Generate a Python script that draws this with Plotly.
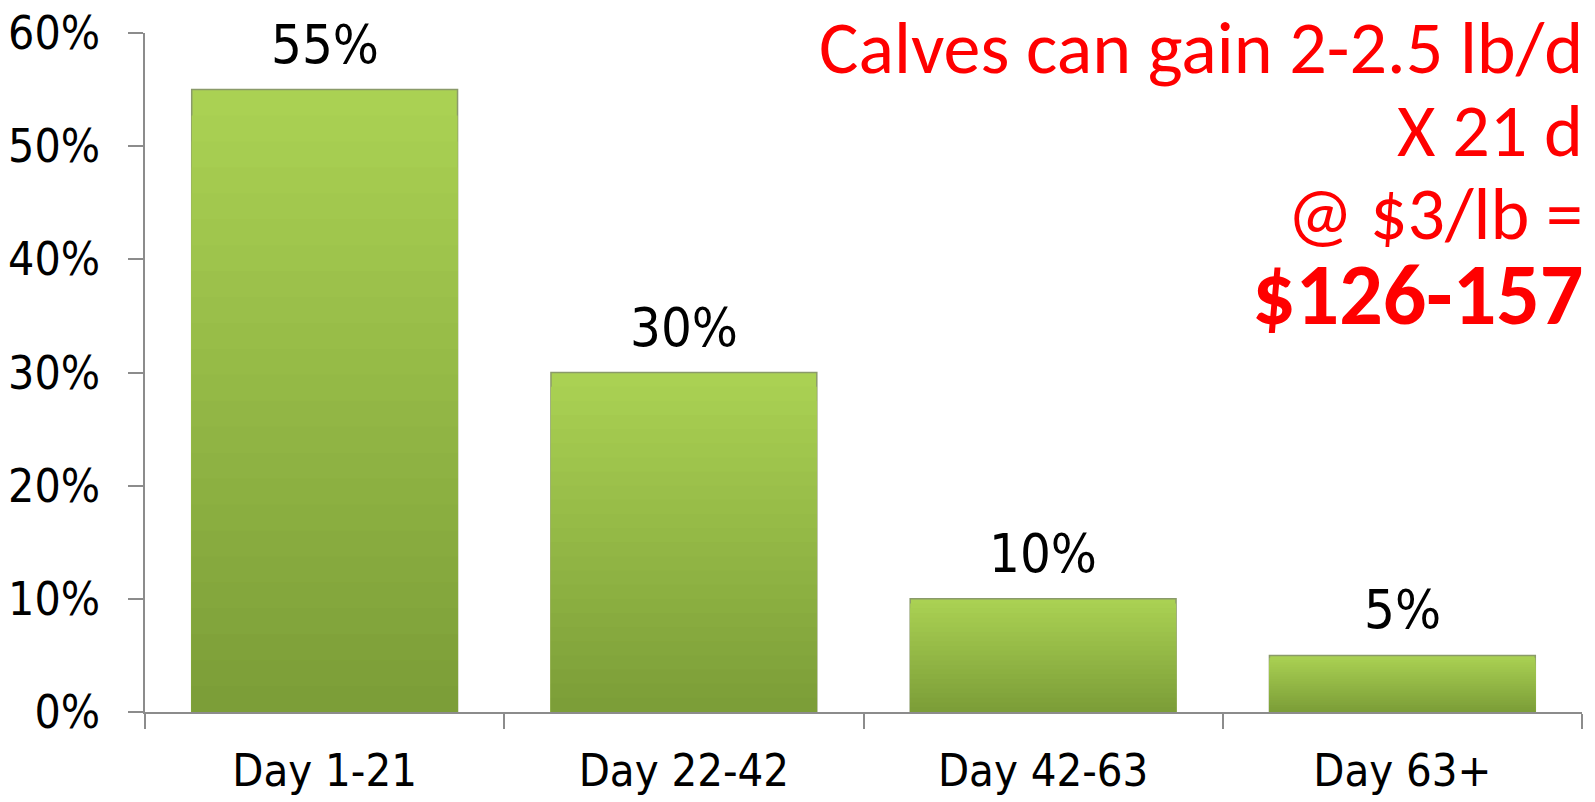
import plotly.graph_objects as go

# data
categories = ["Day 1-21", "Day 22-42", "Day 42-63", "Day 63+"]
shares = [0.55, 0.30, 0.10, 0.05]
y_ticks = [0, 0.1, 0.2, 0.3, 0.4, 0.5, 0.6]
note_lines = ["Calves can gain 2-2.5 lb/d", "X 21 d", "@ $3/lb =", "$126-157"]

NARROW = "DejaVu Sans Condensed, Liberation Sans Narrow, sans-serif"
NOTE_FONT = "Carlito, Lato, Open Sans, sans-serif"

fig = go.Figure()

# stepped gradient: light at top, darker toward the base
n_steps = 24
top_col = (170, 209, 83)
bot_col = (124, 158, 56)
for k in range(n_steps):
    t = k / (n_steps - 1)
    col = tuple(round(a + (b - a) * t) for a, b in zip(top_col, bot_col))
    frac = 1 - k / n_steps
    fig.add_trace(go.Bar(
        x=categories,
        y=[v * frac for v in shares],
        width=0.74,
        marker=dict(color="rgb(%d,%d,%d)" % col,
                    line=dict(width=1.5 if k == 0 else 0, color="#8a9a6a")),
        hoverinfo="skip" if k else "x+y",
        showlegend=False,
    ))

# value labels above bars
for c, v in zip(categories, shares):
    fig.add_annotation(x=c, y=v, xref="x", yref="y", text="%d%%" % round(v * 100),
                       showarrow=False, yanchor="bottom", yshift=12,
                       font=dict(family=NARROW, size=54, color="black"))

# red note, right aligned
note_y = [0.978, 0.856, 0.734, 0.615]
note_size = [74, 74, 74, 86]
for i, (txt, yy, sz) in enumerate(zip(note_lines, note_y, note_size)):
    fig.add_annotation(x=1, y=yy, xref="paper", yref="paper", xanchor="right", yanchor="middle",
                       xshift=3, showarrow=False,
                       text="<b>%s</b>" % txt if i == 3 else txt,
                       font=dict(family=NOTE_FONT, size=sz, color="#ff0000"))

# page body has an 8px default margin, so size/margins are trimmed by that
fig.update_layout(
    width=1587, height=794,
    barmode="overlay",
    plot_bgcolor="white", paper_bgcolor="white",
    margin=dict(l=137, r=13, t=25, b=90),
    showlegend=False,
    xaxis=dict(
        automargin=False,
        showline=True, linecolor="#8c8c8c", linewidth=1.5,
        ticks="outside", tickson="boundaries", ticklen=15, tickcolor="#8c8c8c", tickwidth=1.5,
        tickfont=dict(family=NARROW, size=45, color="black"),
        ticklabelstandoff=18,
        showgrid=False, zeroline=False,
    ),
    yaxis=dict(
        automargin=False,
        range=[0, 0.6],
        tickvals=y_ticks, tickformat=".0%",
        ticklabeloverflow="allow",
        showline=True, linecolor="#8c8c8c", linewidth=1.5,
        ticks="outside", ticklen=15, tickcolor="#8c8c8c", tickwidth=1.5,
        tickfont=dict(family=NARROW, size=46, color="black"),
        ticklabelstandoff=19,
        showgrid=False, zeroline=False,
    ),
)

fig.write_html("out.html")
